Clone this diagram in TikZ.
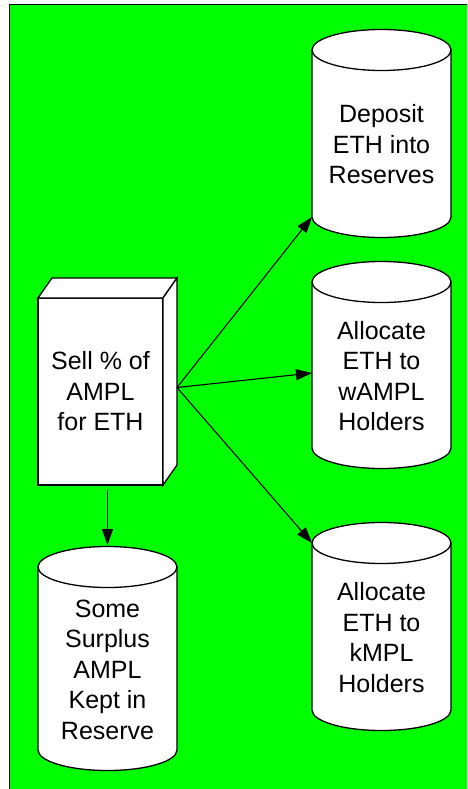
\documentclass[tikz,border=0pt]{standalone}
\usepackage{fontspec}
\setmainfont{Liberation Sans}
\usepackage{xcolor}
\usetikzlibrary{arrows.meta,positioning}

\definecolor{sheetgreen}{RGB}{0,255,0}

\begin{document}
\begin{tikzpicture}[x=1pt,y=-1pt,line width=1.3pt,
  can/.style={minimum width=139pt,inner sep=0pt,outer sep=0pt},
  crate/.style={draw,fill=white,minimum width=125pt,minimum height=187pt,inner sep=0pt,outer sep=0pt,align=center,font=\fontsize{25}{30.5}\selectfont},
  words/.style={align=center,font=\fontsize{25}{30.5}\selectfont},
  arr/.style={line width=1.1pt,-{Triangle[length=16pt,width=11pt]}}]
% Sheet
\useasboundingbox (0,0) rectangle (467,789);
\clip (0,0) rectangle (467,789);
\fill[white] (0,0) rectangle (467,789);
\draw[fill=sheetgreen] (9.5,4.5) rectangle (480,800);

% Cylinder bodies (between the ellipse centres)
\node[can,minimum height=167pt] (dep) at (381.5,133.5) {};
\node[can,minimum height=166pt] (wampl) at (381.5,365) {};
\node[can,minimum height=167pt] (kmpl) at (381.5,626.5) {};
\node[can,minimum height=183pt] (surplus) at (107.5,658.5) {};

\foreach \c in {dep,wampl,kmpl,surplus} {
  \draw[fill=white] (\c.north west) -- (\c.south west)
    arc[start angle=180,end angle=360,x radius=69.5pt,y radius=20.5pt]
    -- (\c.north east) -- cycle;
  \draw[fill=white] (\c.north) ellipse[x radius=69.5pt,y radius=20.5pt];
}

% Box with depth
\node[crate] (sell) at (100.5,391.5) {Sell \% of\\AMPL\\for ETH};
\draw[fill=white] (sell.north west) -- ++(14,-20) -- ++(125,0) -- (sell.north east) -- cycle;
\draw[fill=white] (sell.north east) -- ++(14,-20) -- ++(0,187) -- (sell.south east) -- cycle;
\coordinate (fan) at ([shift={(14,-4)}]sell.east);

% Labels
\node[words] (deptxt) at ([yshift=-11pt]dep.center) {Deposit\\ETH into\\Reserves};
\node[words] (wampltxt) at ([yshift=-11pt]wampl.center) {Allocate\\ETH to\\wAMPL\\Holders};
\node[words] (kmpltxt) at ([yshift=-11pt]kmpl.center) {Allocate\\ETH to\\kMPL\\Holders};
\node[words] (surplustxt) at ([yshift=-11pt]surplus.center) {Some\\Surplus\\AMPL\\Kept in\\Reserve};

% Arrows
\draw[arr] (fan) -- (dep.south west);
\draw[arr] (fan) -- ([yshift=-8pt]wampl.west);
\draw[arr] (fan) -- (kmpl.north west);
\draw[arr] ([shift={(7,5)}]sell.south) -- ([yshift=22pt]surplus.north);
\end{tikzpicture}
\end{document}
